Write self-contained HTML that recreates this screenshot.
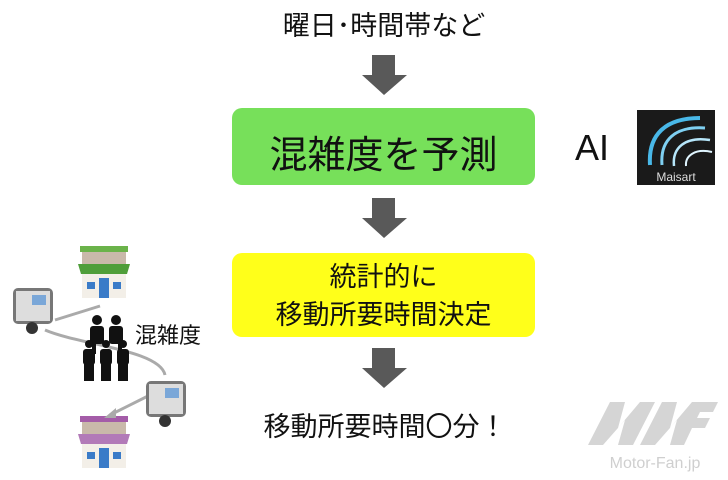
<!DOCTYPE html>
<html><head><meta charset="utf-8"><style>
body{margin:0;width:728px;height:480px;background:#fff;position:relative;overflow:hidden;font-family:"Liberation Sans","Noto Sans CJK JP",sans-serif;color:#111}
.a{position:absolute}
.t{position:absolute;white-space:nowrap;text-align:center}
</style></head><body>
<div class="t" style="left:233px;width:302px;top:4px;font-size:27px;">曜日･時間帯など</div>
<svg class="a" style="left:0;top:0" width="728" height="480">
<g fill="#595959">
<polygon points="372,55 395,55 395,75 407,75 384,95 362,75 372,75"/>
<polygon points="372,198 395,198 395,218 407,218 384,238 362,218 372,218"/>
<polygon points="372,348 395,348 395,368 407,368 384,388 362,368 372,368"/>
</g>
<rect x="232" y="108" width="303" height="77" rx="10" fill="#77e05a"/>
<rect x="232" y="253" width="303" height="84" rx="10" fill="#ffff1a"/>
<!-- logo -->
<rect x="637" y="110" width="78" height="75" fill="#1a1a1a"/>
<path d="M700,118 C665,118 648,135 650,165" stroke="#49b8e8" stroke-width="4" fill="none"/>
<path d="M705,128 C675,126 660,140 662,165" stroke="#7fd0f2" stroke-width="3" fill="none"/>
<path d="M710,140 C685,136 672,148 674,166" stroke="#b6e6fa" stroke-width="2.5" fill="none"/>
<path d="M712,152 C695,148 685,156 686,166" stroke="#e0f5ff" stroke-width="2" fill="none"/>
<text x="676" y="181" font-size="12" fill="#ddd" text-anchor="middle" font-family="Liberation Sans">Maisart</text>
<!-- left illustration -->
<g>
<rect x="80" y="246" width="48" height="6" fill="#6bb34a"/>
<rect x="82" y="252" width="44" height="12" fill="#c9b9aa"/>
<path d="M78,264 h52 l-3,10 h-46z" fill="#4f9e3a"/>
<rect x="82" y="274" width="44" height="24" fill="#f3efe8"/>
<rect x="99" y="278" width="10" height="20" fill="#3a7bc8"/>
<rect x="87" y="282" width="8" height="7" fill="#3a7bc8"/>
<rect x="113" y="282" width="8" height="7" fill="#3a7bc8"/>
<rect x="80" y="416" width="48" height="6" fill="#a45ca8"/>
<rect x="82" y="422" width="44" height="12" fill="#c9b9aa"/>
<path d="M78,434 h52 l-3,10 h-46z" fill="#b27ab8"/>
<rect x="82" y="444" width="44" height="24" fill="#f3efe8"/>
<rect x="99" y="448" width="10" height="20" fill="#3a7bc8"/>
<rect x="87" y="452" width="8" height="7" fill="#3a7bc8"/>
<rect x="113" y="452" width="8" height="7" fill="#3a7bc8"/>
<path d="M55,320 L100,306" stroke="#aaa" stroke-width="3" fill="none"/>
<path d="M45,330 C80,345 160,350 165,375" stroke="#aaa" stroke-width="3" fill="none"/>
<path d="M150,395 L110,415" stroke="#aaa" stroke-width="3" fill="none"/>
<polygon points="104,418 116,408 116,418" fill="#aaa"/>
<rect x="13" y="288" width="40" height="36" rx="5" fill="#777"/>
<rect x="16" y="291" width="34" height="30" fill="#ddd"/>
<rect x="32" y="295" width="14" height="10" fill="#7aa7d8"/>
<circle cx="32" cy="328" r="6" fill="#333"/>
<rect x="146" y="381" width="40" height="36" rx="5" fill="#777"/>
<rect x="149" y="384" width="34" height="30" fill="#ddd"/>
<rect x="165" y="388" width="14" height="10" fill="#7aa7d8"/>
<circle cx="165" cy="421" r="6" fill="#333"/>
<g fill="#111">
<circle cx="97" cy="320" r="5"/><rect x="90" y="326" width="14" height="18" rx="3"/>
<circle cx="116" cy="320" r="5"/><rect x="109" y="326" width="14" height="18" rx="3"/>
<rect x="92" y="342" width="4" height="12"/><rect x="118" y="342" width="4" height="12"/>
<circle cx="89" cy="344" r="4"/><rect x="83" y="349" width="12" height="16" rx="3"/>
<circle cx="106" cy="344" r="4"/><rect x="100" y="349" width="12" height="16" rx="3"/>
<circle cx="123" cy="344" r="4"/><rect x="117" y="349" width="12" height="16" rx="3"/>
<rect x="84" y="363" width="10" height="18"/><rect x="101" y="363" width="10" height="18"/><rect x="118" y="363" width="10" height="18"/>
</g>
</g>
<!-- watermark -->
<g fill="#d5d5d5">
<polygon points="588,445 610,402 625,402 618,428 640,402 655,402 633,445 618,445 625,420 603,445"/>
<polygon points="640,445 662,402 677,402 670,428 692,402 718,402 713,412 700,412 697,418 710,418 705,428 692,428 684,445 670,445 677,420 655,445"/>
</g>
<text x="655" y="468" font-size="16" fill="#cfcfcf" text-anchor="middle" font-family="Liberation Sans">Motor-Fan.jp</text>
</svg>
<div class="t" style="left:232px;width:303px;top:124px;font-size:38px;">混雑度を予測</div>
<div class="t" style="left:232px;width:303px;top:258px;font-size:27px;line-height:38px;">統計的に<br>移動所要時間決定</div>
<div class="t" style="left:200px;width:370px;top:405px;font-size:27px;">移動所要時間〇分！</div>
<div class="t" style="left:575px;top:127px;font-size:36px;">AI</div>
<div class="t" style="left:135px;top:318px;font-size:22px;">混雑度</div>
</body></html>
